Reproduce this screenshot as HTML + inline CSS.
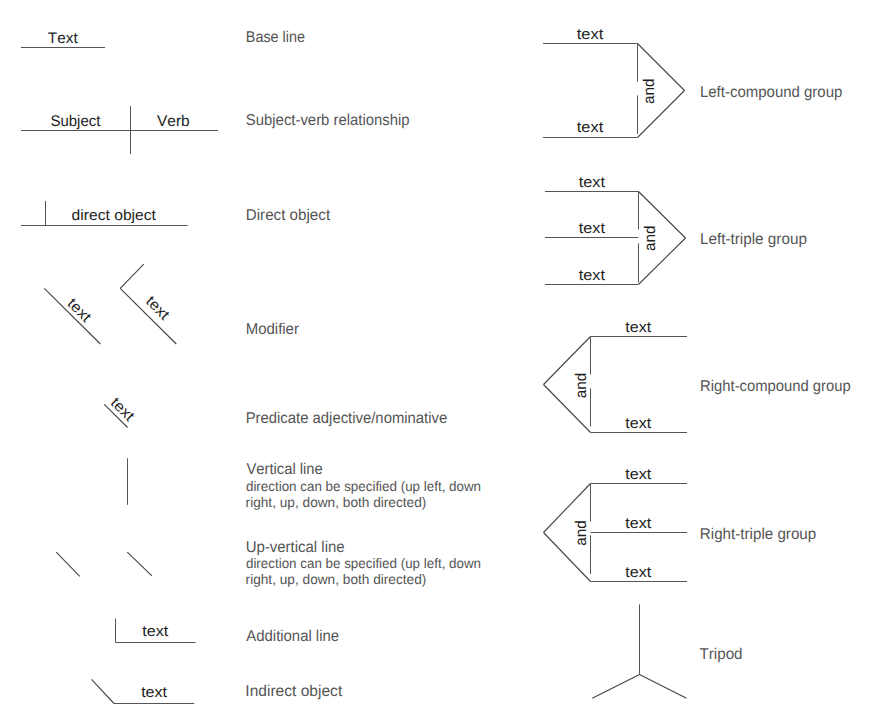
<!DOCTYPE html>
<html><head><meta charset="utf-8"><style>
html,body{margin:0;padding:0;background:#fff;}
svg{display:block;}
text{font-family:"Liberation Sans", sans-serif;font-kerning:none;text-rendering:geometricPrecision;}
</style></head><body>
<svg width="889" height="724" viewBox="0 0 889 724">
<rect width="889" height="724" fill="#fff"/>
<line x1="21" y1="47.5" x2="105" y2="47.5" stroke="#555" stroke-width="1" stroke-linecap="butt"/>
<text x="47.86" y="43.30" font-size="15.3" fill="#1e1e1e" textLength="29.86" lengthAdjust="spacingAndGlyphs">Text</text>
<line x1="21" y1="130.5" x2="218" y2="130.5" stroke="#555" stroke-width="1" stroke-linecap="butt"/>
<line x1="130.5" y1="106" x2="130.5" y2="154" stroke="#555" stroke-width="1" stroke-linecap="butt"/>
<text x="50.42" y="126.10" font-size="15.5" fill="#1e1e1e" textLength="49.99" lengthAdjust="spacingAndGlyphs">Subject</text>
<text x="157.03" y="126.00" font-size="15.5" fill="#1e1e1e" textLength="32.62" lengthAdjust="spacingAndGlyphs">Verb</text>
<line x1="21" y1="225.5" x2="187.5" y2="225.5" stroke="#555" stroke-width="1" stroke-linecap="butt"/>
<line x1="45.5" y1="201" x2="45.5" y2="225" stroke="#555" stroke-width="1" stroke-linecap="butt"/>
<text x="71.64" y="220.30" font-size="15" fill="#1e1e1e" textLength="84.27" lengthAdjust="spacingAndGlyphs">direct object</text>
<line x1="44.3" y1="288.3" x2="100.4" y2="344" stroke="#444" stroke-width="1.1" stroke-linecap="butt"/>
<line x1="143.8" y1="264.2" x2="120.2" y2="288.3" stroke="#444" stroke-width="1.1" stroke-linecap="butt"/>
<line x1="120.2" y1="288.3" x2="176.3" y2="344" stroke="#444" stroke-width="1.1" stroke-linecap="butt"/>
<g transform="translate(75.90,313.70) rotate(45)"><text x="-13.25" y="0" font-size="15" fill="#1e1e1e" textLength="26.37" lengthAdjust="spacingAndGlyphs">text</text></g>
<g transform="translate(154.30,311.40) rotate(45)"><text x="-13.25" y="0" font-size="15" fill="#1e1e1e" textLength="26.37" lengthAdjust="spacingAndGlyphs">text</text></g>
<line x1="104.2" y1="404.3" x2="127.6" y2="427.5" stroke="#444" stroke-width="1.1" stroke-linecap="butt"/>
<g transform="translate(119.20,412.80) rotate(45)"><text x="-13.25" y="0" font-size="15" fill="#1e1e1e" textLength="26.37" lengthAdjust="spacingAndGlyphs">text</text></g>
<line x1="127.5" y1="458.3" x2="127.5" y2="504.8" stroke="#555" stroke-width="1" stroke-linecap="butt"/>
<line x1="56.2" y1="552.1" x2="79.8" y2="576.4" stroke="#444" stroke-width="1.1" stroke-linecap="butt"/>
<line x1="127.3" y1="552.1" x2="151.9" y2="575.8" stroke="#444" stroke-width="1.1" stroke-linecap="butt"/>
<line x1="115.5" y1="618.5" x2="115.5" y2="642.5" stroke="#555" stroke-width="1" stroke-linecap="butt"/>
<line x1="115.5" y1="642.5" x2="195.5" y2="642.5" stroke="#555" stroke-width="1" stroke-linecap="butt"/>
<text x="142.26" y="636.20" font-size="15" fill="#1e1e1e" textLength="26.06" lengthAdjust="spacingAndGlyphs">text</text>
<line x1="91.5" y1="679.4" x2="114" y2="703.5" stroke="#444" stroke-width="1.1" stroke-linecap="butt"/>
<line x1="114" y1="703.5" x2="194.3" y2="703.5" stroke="#555" stroke-width="1" stroke-linecap="butt"/>
<text x="141.16" y="697.00" font-size="15" fill="#1e1e1e" textLength="25.86" lengthAdjust="spacingAndGlyphs">text</text>
<text x="245.82" y="41.90" font-size="15.7" fill="#555" textLength="59.22" lengthAdjust="spacingAndGlyphs">Base line</text>
<text x="245.82" y="124.60" font-size="15.7" fill="#555" textLength="163.80" lengthAdjust="spacingAndGlyphs">Subject-verb relationship</text>
<text x="245.75" y="220.10" font-size="15.7" fill="#555" textLength="84.36" lengthAdjust="spacingAndGlyphs">Direct object</text>
<text x="245.67" y="334.10" font-size="15.7" fill="#555" textLength="53.28" lengthAdjust="spacingAndGlyphs">Modifier</text>
<text x="245.68" y="422.60" font-size="15.7" fill="#555" textLength="201.58" lengthAdjust="spacingAndGlyphs">Predicate adjective/nominative</text>
<text x="246.44" y="474.00" font-size="15.7" fill="#555" textLength="76.32" lengthAdjust="spacingAndGlyphs">Vertical line</text>
<text x="245.94" y="491.00" font-size="13.8" fill="#555" textLength="235.13" lengthAdjust="spacingAndGlyphs">direction can be specified (up left, down</text>
<text x="245.59" y="507.00" font-size="13.8" fill="#555" textLength="180.75" lengthAdjust="spacingAndGlyphs">right, up, down, both directed)</text>
<text x="245.64" y="551.80" font-size="15.7" fill="#555" textLength="99.02" lengthAdjust="spacingAndGlyphs">Up-vertical line</text>
<text x="245.94" y="568.00" font-size="13.8" fill="#555" textLength="235.13" lengthAdjust="spacingAndGlyphs">direction can be specified (up left, down</text>
<text x="245.59" y="584.00" font-size="13.8" fill="#555" textLength="180.75" lengthAdjust="spacingAndGlyphs">right, up, down, both directed)</text>
<text x="246.37" y="641.10" font-size="15.7" fill="#555" textLength="92.69" lengthAdjust="spacingAndGlyphs">Additional line</text>
<text x="245.36" y="696.00" font-size="15.7" fill="#555" textLength="96.85" lengthAdjust="spacingAndGlyphs">Indirect object</text>
<line x1="543" y1="43.5" x2="637.5" y2="43.5" stroke="#555" stroke-width="1" stroke-linecap="butt"/>
<line x1="637.5" y1="43.5" x2="684.5" y2="90.5" stroke="#444" stroke-width="1.1" stroke-linecap="butt"/>
<line x1="684.5" y1="90.5" x2="637.5" y2="137.5" stroke="#444" stroke-width="1.1" stroke-linecap="butt"/>
<line x1="637.5" y1="137.5" x2="543" y2="137.5" stroke="#555" stroke-width="1" stroke-linecap="butt"/>
<line x1="637.5" y1="43.5" x2="637.5" y2="81.5" stroke="#555" stroke-width="1" stroke-linecap="butt"/>
<line x1="637.5" y1="95.4" x2="637.5" y2="134" stroke="#555" stroke-width="1" stroke-linecap="butt"/>
<text x="576.75" y="39.00" font-size="15" fill="#1e1e1e" textLength="26.47" lengthAdjust="spacingAndGlyphs">text</text>
<text x="576.75" y="132.20" font-size="15" fill="#1e1e1e" textLength="26.47" lengthAdjust="spacingAndGlyphs">text</text>
<g transform="translate(654.00,91.50) rotate(-90)"><text x="-12.55" y="0" font-size="15.5" fill="#1e1e1e" textLength="25.43" lengthAdjust="spacingAndGlyphs">and</text></g>
<line x1="545" y1="191.5" x2="638.5" y2="191.5" stroke="#555" stroke-width="1" stroke-linecap="butt"/>
<line x1="638.5" y1="191.5" x2="685.5" y2="238" stroke="#444" stroke-width="1.1" stroke-linecap="butt"/>
<line x1="685.5" y1="238" x2="638.5" y2="284.5" stroke="#444" stroke-width="1.1" stroke-linecap="butt"/>
<line x1="638.5" y1="284.5" x2="545" y2="284.5" stroke="#555" stroke-width="1" stroke-linecap="butt"/>
<line x1="545" y1="237.5" x2="638.5" y2="237.5" stroke="#555" stroke-width="1" stroke-linecap="butt"/>
<line x1="638.5" y1="191.5" x2="638.5" y2="229.5" stroke="#555" stroke-width="1" stroke-linecap="butt"/>
<line x1="638.5" y1="243.4" x2="638.5" y2="282.5" stroke="#555" stroke-width="1" stroke-linecap="butt"/>
<text x="578.75" y="187.10" font-size="15" fill="#1e1e1e" textLength="26.16" lengthAdjust="spacingAndGlyphs">text</text>
<text x="578.75" y="233.00" font-size="15" fill="#1e1e1e" textLength="26.16" lengthAdjust="spacingAndGlyphs">text</text>
<text x="578.75" y="279.80" font-size="15" fill="#1e1e1e" textLength="26.16" lengthAdjust="spacingAndGlyphs">text</text>
<g transform="translate(655.00,238.50) rotate(-90)"><text x="-12.55" y="0" font-size="15.5" fill="#1e1e1e" textLength="25.43" lengthAdjust="spacingAndGlyphs">and</text></g>
<line x1="687" y1="336.5" x2="590.5" y2="336.5" stroke="#555" stroke-width="1" stroke-linecap="butt"/>
<line x1="590.5" y1="336.5" x2="543.5" y2="384.5" stroke="#444" stroke-width="1.1" stroke-linecap="butt"/>
<line x1="543.5" y1="384.5" x2="590.5" y2="432.5" stroke="#444" stroke-width="1.1" stroke-linecap="butt"/>
<line x1="590.5" y1="432.5" x2="687" y2="432.5" stroke="#555" stroke-width="1" stroke-linecap="butt"/>
<line x1="590.5" y1="336.5" x2="590.5" y2="374.6" stroke="#555" stroke-width="1" stroke-linecap="butt"/>
<line x1="590.5" y1="388.4" x2="590.5" y2="426.6" stroke="#555" stroke-width="1" stroke-linecap="butt"/>
<text x="625.26" y="332.10" font-size="15" fill="#1e1e1e" textLength="25.96" lengthAdjust="spacingAndGlyphs">text</text>
<text x="625.26" y="427.50" font-size="15" fill="#1e1e1e" textLength="25.96" lengthAdjust="spacingAndGlyphs">text</text>
<g transform="translate(586.00,385.60) rotate(-90)"><text x="-12.55" y="0" font-size="15.5" fill="#1e1e1e" textLength="25.43" lengthAdjust="spacingAndGlyphs">and</text></g>
<line x1="687" y1="483.5" x2="590.5" y2="483.5" stroke="#555" stroke-width="1" stroke-linecap="butt"/>
<line x1="590.5" y1="483.5" x2="543.5" y2="532.5" stroke="#444" stroke-width="1.1" stroke-linecap="butt"/>
<line x1="543.5" y1="532.5" x2="590.5" y2="581.5" stroke="#444" stroke-width="1.1" stroke-linecap="butt"/>
<line x1="590.5" y1="581.5" x2="687" y2="581.5" stroke="#555" stroke-width="1" stroke-linecap="butt"/>
<line x1="590.5" y1="532.5" x2="687" y2="532.5" stroke="#555" stroke-width="1" stroke-linecap="butt"/>
<line x1="590.5" y1="483.5" x2="590.5" y2="521.6" stroke="#555" stroke-width="1" stroke-linecap="butt"/>
<line x1="590.5" y1="535.3" x2="590.5" y2="574" stroke="#555" stroke-width="1" stroke-linecap="butt"/>
<text x="625.26" y="478.90" font-size="15" fill="#1e1e1e" textLength="25.96" lengthAdjust="spacingAndGlyphs">text</text>
<text x="625.26" y="527.50" font-size="15" fill="#1e1e1e" textLength="25.96" lengthAdjust="spacingAndGlyphs">text</text>
<text x="625.26" y="576.60" font-size="15" fill="#1e1e1e" textLength="25.96" lengthAdjust="spacingAndGlyphs">text</text>
<g transform="translate(586.00,533.10) rotate(-90)"><text x="-12.55" y="0" font-size="15.5" fill="#1e1e1e" textLength="25.43" lengthAdjust="spacingAndGlyphs">and</text></g>
<line x1="639.5" y1="604.4" x2="639.5" y2="674.4" stroke="#555" stroke-width="1" stroke-linecap="butt"/>
<line x1="592.3" y1="698.3" x2="639.5" y2="674.4" stroke="#444" stroke-width="1.1" stroke-linecap="butt"/>
<line x1="639.5" y1="674.4" x2="686.5" y2="698.3" stroke="#444" stroke-width="1.1" stroke-linecap="butt"/>
<text x="699.97" y="97.00" font-size="15.7" fill="#555" textLength="142.36" lengthAdjust="spacingAndGlyphs">Left-compound group</text>
<text x="699.95" y="243.80" font-size="15.7" fill="#555" textLength="106.99" lengthAdjust="spacingAndGlyphs">Left-triple group</text>
<text x="700.09" y="391.00" font-size="15.7" fill="#555" textLength="150.64" lengthAdjust="spacingAndGlyphs">Right-compound group</text>
<text x="699.86" y="538.80" font-size="15.7" fill="#555" textLength="116.38" lengthAdjust="spacingAndGlyphs">Right-triple group</text>
<text x="699.56" y="659.10" font-size="15.7" fill="#555" textLength="43.02" lengthAdjust="spacingAndGlyphs">Tripod</text>
</svg>
</body></html>
